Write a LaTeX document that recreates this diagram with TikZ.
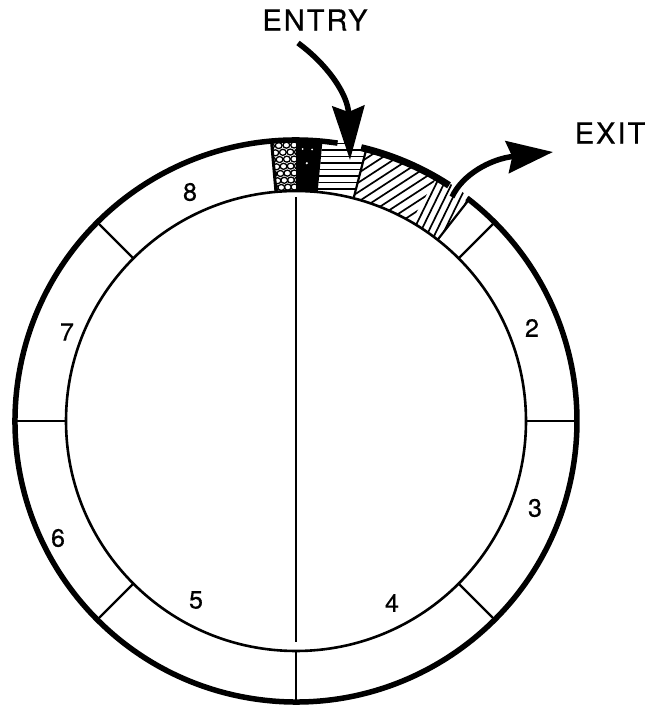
\documentclass[tikz,border=0pt]{standalone}
\usepackage{fontspec}
\setmainfont[FakeBold=0.5]{TeX Gyre Heros}
\newfontfamily\labfont[LetterSpace=7,FakeBold=0.5]{TeX Gyre Heros}
\usetikzlibrary{arrows.meta}
\newcommand\ringsector[2]{(#1:230pt) arc[start angle=#1,end angle=#2,radius=230pt] -- (#2:283pt) arc[start angle=#2,end angle=#1,radius=283pt] -- cycle}
\begin{document}
\begin{tikzpicture}[x=1pt,y=1pt,
  ringline/.style={line width=5.5pt},
  divider/.style={line width=2.2pt},
  hatch/.style={line width=1.7pt},
  num/.style={font=\fontsize{25}{25}\selectfont, inner sep=0pt},
  lab/.style={font=\labfont\fontsize{29}{29}\selectfont, inner sep=0pt},
  arr/.style={line width=5.5pt}
]
\useasboundingbox (0,0) rectangle (662,705);
\coordinate (c) at (296,284);
\begin{scope}[shift={(c)}]
  % shaded blocks
  \begin{scope}
    \clip \ringsector{90}{95};
    \foreach \r [count=\i] in {234,241,...,283} {
      \pgfmathsetmacro\off{mod(\i,2)*0.8}
      \foreach \a in {89.6,91.2,...,96} {
        \draw[line width=1.3pt, fill=white] ({\a+\off}:\r pt) ellipse [x radius=3.4pt, y radius=3pt];
      }
    }
  \end{scope}
  \fill \ringsector{84.6}{90};
  \fill[white] (88.6:272pt) circle (1pt) (86.6:272pt) circle (1pt) (87.6:258pt) circle (1.2pt);
  \begin{scope}
    \clip \ringsector{75.5}{84.6};
    \foreach \y in {232,238.5,...,290} \draw[hatch] (-10,\y) -- (150,\y);
  \end{scope}
  \begin{scope}
    \clip \ringsector{60}{75.5};
    \begin{scope}[rotate=33]
      \foreach \s in {30,38,...,240} \draw[hatch] (-300,\s) -- (300,\s);
    \end{scope}
  \end{scope}
  \begin{scope}
    \clip \ringsector{52}{60};
    \begin{scope}[rotate=64]
      \foreach \s in {-120,-113,...,30} \draw[hatch] (-300,\s) -- (300,\s);
    \end{scope}
  \end{scope}
  \draw[line width=3pt] (95:230pt) -- (95:281pt);
  \draw[divider] (75.5:230pt) -- (75.5:281pt);
  \draw[divider] (52:230pt) -- (52:281pt);
  % circles
  \draw[line width=2.6pt] (0,0) circle (230pt);
  \draw[ringline] (81.5:281pt) arc[start angle=81.5, end angle=412.5, radius=281pt];
  \draw[line width=7pt] (57:281pt) arc[start angle=57, end angle=76.6, radius=281pt];
  % dividers
  \foreach \a in {0,45,135,180,225,270,315}
    \draw[divider] (\a:230pt) -- (\a:281pt);
  \draw[divider] (0,224) -- (0,-221);
\end{scope}
% labels
\node[num] (n2) at (532,377) {2};
\node[num] (n3) at (535,197) {3};
\node[num] (n4) at (392,102) {4};
\node[num] (n5) at (196,105) {5};
\node[num] (n6) at (58,167) {6};
\node[num] (n7) at (67,373) {7};
\node[num] (n8) at (190,513) {8};
\node[lab] (entry) at (315,685) {ENTRY};
\node[lab] (exit) at (610,572) {EXIT};
% arrows
\coordinate (entryTail) at (298,662);
\coordinate (entryTip) at (350,545);
\coordinate (exitTail) at (452,508);
\coordinate (exitTip) at (553,553);
\draw[arr, -{Stealth[length=54pt,width=32pt,inset=6pt]}] (entryTail) .. controls (328,640) and (348,610) .. (entryTip);
\draw[arr, -{Stealth[length=46pt,width=32pt,inset=5pt]}] (exitTail) .. controls (462,530) and (490,546) .. (exitTip);
\end{tikzpicture}
\end{document}
